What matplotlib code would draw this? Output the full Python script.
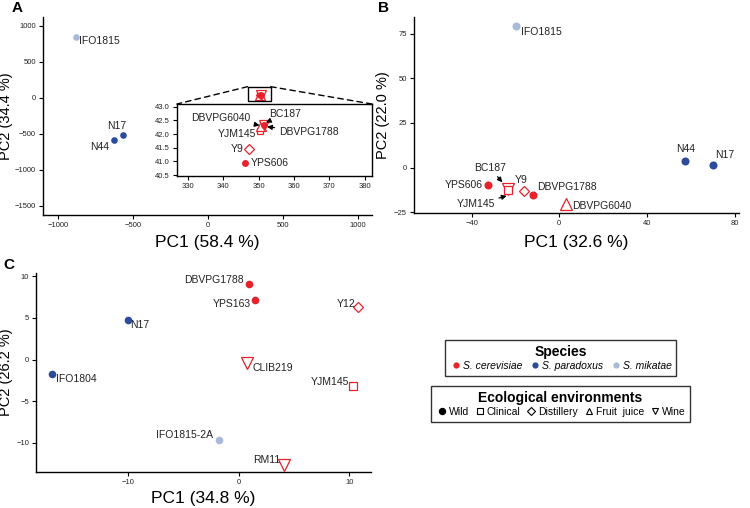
import matplotlib
matplotlib.use("Agg")
import matplotlib.pyplot as plt
from matplotlib.lines import Line2D
from matplotlib.patches import Rectangle, ConnectionPatch

plt.rcParams['font.family'] = ['Liberation Sans', 'DejaVu Sans']

RED = '#e8212b'
DARK = '#2b4c9b'
LIGHT = '#a9b9da'
species_colors = {'cer': RED, 'par': DARK, 'mik': LIGHT}
env_markers = {'Wild': 'o', 'Clinical': 's', 'Distillery': 'D', 'Fruit juice': '^', 'Wine': 'v'}

# ---- panel A (main) ----
a_names = ['IFO1815', 'N17', 'N44', 'YPS606', 'Y9', 'YJM145', 'DBVPG6040', 'BC187', 'DBVPG1788']
a_x = [-880, -570, -630, 346.3, 347.3, 350.4, 350.6, 351.6, 351.5]
a_y = [850, -510, -580, 40.95, 41.47, 42.12, 42.30, 42.34, 42.35]
a_species = ['mik', 'par', 'par', 'cer', 'cer', 'cer', 'cer', 'cer', 'cer']
a_env = ['Wild', 'Wild', 'Wild', 'Wild', 'Distillery', 'Clinical', 'Fruit juice', 'Wine', 'Wild']

# ---- panel B ----
b_names = ['IFO1815', 'N44', 'N17', 'YPS606', 'BC187', 'YJM145', 'Y9', 'DBVPG1788', 'DBVPG6040']
b_x = [-19.6, 57.5, 70.2, -32.6, -23.6, -23.3, -16.3, -12.1, 3.2]
b_y = [79.5, 3.6, 1.5, -10.0, -11.9, -12.7, -13.1, -15.5, -20.5]
b_species = ['mik', 'par', 'par', 'cer', 'cer', 'cer', 'cer', 'cer', 'cer']
b_env = ['Wild', 'Wild', 'Wild', 'Wild', 'Wine', 'Clinical', 'Distillery', 'Wild', 'Fruit juice']

# ---- panel C ----
c_names = ['DBVPG1788', 'YPS163', 'Y12', 'N17', 'CLIB219', 'YJM145', 'IFO1804', 'IFO1815-2A', 'RM11']
c_x = [0.96, 1.47, 10.77, -10.02, 0.75, 10.37, -16.92, -1.76, 4.13]
c_y = [9.08, 7.2, 6.28, 4.8, -0.4, -3.17, -1.68, -9.69, -12.6]
c_species = ['cer', 'cer', 'cer', 'par', 'cer', 'cer', 'par', 'mik', 'cer']
c_env = ['Wild', 'Wild', 'Distillery', 'Wild', 'Wine', 'Clinical', 'Wild', 'Wild', 'Wine']

# label offsets (points) and alignment
a_lab = {'IFO1815': (2, -3, 'left'), 'N17': (-4, 6.5, 'center'), 'N44': (-3.5, -5, 'right')}
inset_lab = {'YPS606': (4, 0, 'left'), 'Y9': (-4, 0, 'right'), 'YJM145': (-3, -2.5, 'right')}
inset_arrows = {'DBVPG6040': ((350.3, 42.32), (347.8, 42.59), 'right'),
                'BC187': ((352.1, 42.42), (353.0, 42.75), 'left'),
                'DBVPG1788': ((352.4, 42.27), (355.7, 42.08), 'left')}
b_lab = {'IFO1815': (3.5, -4.3, 'left'), 'N44': (0, 8.6, 'center'), 'N17': (8, 7, 'center'),
         'YPS606': (-3.6, 0, 'right'), 'Y9': (-2, 8, 'center'), 'DBVPG1788': (3, 5.8, 'left'),
         'DBVPG6040': (4, -1.4, 'left')}
b_arrows = {'BC187': ((-26.0, -8.3), (-31.6, -0.2), 'center'),
            'YJM145': ((-24.0, -15.9), (-29.4, -20.7), 'right')}
c_lab = {'DBVPG1788': (-4.3, 3.2, 'right'), 'YPS163': (-3, -3, 'right'), 'Y12': (-1.5, 2.7, 'right'),
         'N17': (1.7, -3.6, 'left'), 'CLIB219': (4, -3.6, 'left'), 'YJM145': (-3.4, 2.9, 'right'),
         'IFO1804': (3, -3.6, 'left'), 'IFO1815-2A': (-4.3, 3.6, 'right'), 'RM11': (-3, 3.1, 'right')}

LABEL_FS = 7.5
TICK_FS = 5.5
XLAB_FS = 12.5
YLAB_FS = 10.5


def draw_points(ax, x, y, species, env, ms):
    for xi, yi, sp, ev in zip(x, y, species, env):
        col = species_colors[sp]
        m = env_markers[ev]
        size = ms
        if m in ('^', 'v'):
            size = ms * 1.45
        elif m in ('D', 's'):
            size = ms * 0.95
        fc = col if ev == 'Wild' else 'white'
        ax.plot([xi], [yi], marker=m, ls='', ms=size, mfc=fc, mec=col,
                mew=0.9 if ev != 'Wild' else 0, zorder=4 if ev == 'Wild' else 3)


def put_labels(ax, names, x, y, offsets):
    for n, xi, yi in zip(names, x, y):
        if n in offsets:
            dx, dy, ha = offsets[n]
            ax.annotate(n, (xi, yi), xytext=(dx, dy), textcoords='offset points',
                        ha=ha, va='center', fontsize=LABEL_FS, color='#222222')


def put_arrows(ax, arrows):
    for n, (xy, xyt, ha) in arrows.items():
        ax.annotate(n, xy=xy, xytext=xyt, ha=ha, va='center', fontsize=LABEL_FS, color='#222222',
                    arrowprops=dict(arrowstyle='-|>', color='k', lw=0.9, mutation_scale=7,
                                    shrinkA=1, shrinkB=0), zorder=5)


def style_axes(ax, box=False):
    for s in ['top', 'right']:
        ax.spines[s].set_visible(box)
    for s in ax.spines.values():
        s.set_linewidth(1.0)
    ax.tick_params(labelsize=TICK_FS, length=3, width=0.8, colors='k', labelcolor='#222222', pad=2)


def set_labels(ax, xl, yl, xpos, ypos):
    ax.set_xlabel(xl, fontsize=XLAB_FS)
    ax.set_ylabel(yl, fontsize=YLAB_FS)
    ax.xaxis.set_label_coords(0.5, xpos)
    ax.yaxis.set_label_coords(ypos, 0.5)


fig = plt.figure(figsize=(7.5, 5.08), dpi=100)

# panel A
axA = fig.add_axes([43 / 750, 1 - 215 / 508, 329 / 750, 198 / 508])
draw_points(axA, a_x, a_y, a_species, a_env, 4.8)
put_labels(axA, a_names, a_x, a_y, a_lab)
axA.set_xlim(-1102, 1096)
axA.set_ylim(-1629, 1125)
axA.set_xticks([-1000, -500, 0, 500, 1000])
axA.set_yticks([-1500, -1000, -500, 0, 500, 1000])
style_axes(axA)
set_labels(axA, 'PC1 (58.4 %)', 'PC2 (34.4 %)', -0.1, -0.091)
axA.add_patch(Rectangle((265, -47), 154, 203, fill=False, ec='k', lw=1.0, zorder=4))

inset = fig.add_axes([177 / 750, 1 - 176 / 508, 195 / 750, 72 / 508])
draw_points(inset, a_x, a_y, a_species, a_env, 5.0)
put_labels(inset, a_names, a_x, a_y, inset_lab)
put_arrows(inset, inset_arrows)
inset.set_xlim(327, 382)
inset.set_ylim(40.47, 43.1)
inset.set_xticks([330, 340, 350, 360, 370, 380])
inset.set_yticks([40.5, 41.0, 41.5, 42.0, 42.5, 43.0])
inset.set_yticklabels(['40.5', '41.0', '41.5', '42.0', '42.5', '43.0'])
style_axes(inset, box=True)
for cx in (0, 1):
    con = ConnectionPatch(xyA=(265 if cx == 0 else 419, 156), coordsA=axA.transData,
                          xyB=(cx, 1), coordsB=inset.transAxes, ls=(0, (4, 3)), lw=1.0, color='k')
    fig.add_artist(con)

# panel B
axB = fig.add_axes([414 / 750, 1 - 213 / 508, 325 / 750, 196 / 508])
draw_points(axB, b_x, b_y, b_species, b_env, 5.8)
put_labels(axB, b_names, b_x, b_y, b_lab)
put_arrows(axB, b_arrows)
axB.set_xlim(-66.3, 82)
axB.set_ylim(-25.5, 84.4)
axB.set_xticks([-40, 0, 40, 80])
axB.set_yticks([-25, 0, 25, 50, 75])
style_axes(axB)
set_labels(axB, 'PC1 (32.6 %)', 'PC2 (22.0 %)', -0.11, -0.074)

# panel C
axC = fig.add_axes([36 / 750, 1 - 472 / 508, 335 / 750, 199 / 508])
draw_points(axC, c_x, c_y, c_species, c_env, 5.5)
put_labels(axC, c_names, c_x, c_y, c_lab)
axC.set_xlim(-18.35, 11.96)
axC.set_ylim(-13.5, 10.4)
axC.set_xticks([-10, 0, 10])
axC.set_yticks([-10, -5, 0, 5, 10])
style_axes(axC)
set_labels(axC, 'PC1 (34.8 %)', 'PC2 (26.2 %)', -0.095, -0.069)

# panel letters
fig.text(12 / 750, 1 - 8 / 508, 'A', fontsize=11, fontweight='bold', va='center')
fig.text(378 / 750, 1 - 8 / 508, 'B', fontsize=11, fontweight='bold', va='center')
fig.text(3 / 750, 1 - 265 / 508, 'C', fontsize=11, fontweight='bold', va='center')

# legends
sp_labels = ['S. cerevisiae', 'S. paradoxus', 'S. mikatae']
sp_handles = [Line2D([], [], marker='o', ls='', color=species_colors[k], ms=4.5, mew=0)
              for k in ['cer', 'par', 'mik']]
leg1 = fig.legend(sp_handles, sp_labels, ncol=3, loc='upper center',
                  bbox_to_anchor=(560.5 / 750, 1 - 335 / 508), title='Species',
                  title_fontproperties={'weight': 'bold', 'size': 10}, fontsize=7.5,
                  frameon=True, fancybox=False, edgecolor='k', handletextpad=0.1,
                  columnspacing=0.6, handlelength=1.2, borderpad=0.45, labelspacing=0.2)
leg1.get_frame().set_linewidth(1.0)
for t in leg1.get_texts():
    t.set_fontstyle('italic')

env_labels = ['Wild', 'Clinical', 'Distillery', 'Fruit  juice', 'Wine']
env_handles = []
for lab in ['Wild', 'Clinical', 'Distillery', 'Fruit juice', 'Wine']:
    m = env_markers[lab]
    env_handles.append(Line2D([], [], marker=m, ls='', ms=4.5, mec='k',
                              mfc='k' if lab == 'Wild' else 'white', mew=0.8))
leg2 = fig.legend(env_handles, env_labels, ncol=5, loc='upper center',
                  bbox_to_anchor=(560.5 / 750, 1 - 381 / 508), title='Ecological environments',
                  title_fontproperties={'weight': 'bold', 'size': 10}, fontsize=7.5,
                  frameon=True, fancybox=False, edgecolor='k', handletextpad=0.1,
                  columnspacing=0.4, handlelength=1.2, borderpad=0.45, labelspacing=0.2)
leg2.get_frame().set_linewidth(1.0)

fig.savefig('out.png', dpi=100)
